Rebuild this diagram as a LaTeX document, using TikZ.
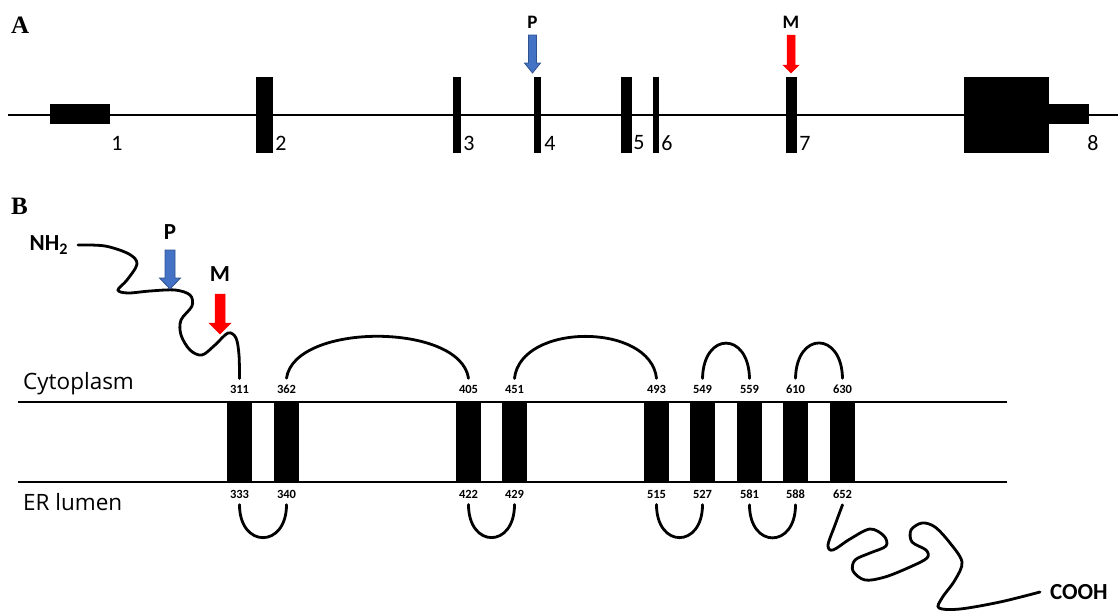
\documentclass[tikz,border=0pt]{standalone}
\usepackage{fontspec}
\setmainfont{Carlito}
\newfontfamily\panelfont{Liberation Serif}
\newfontfamily\regionfont{Open Sans}
\definecolor{pblue}{RGB}{68,114,196}
\definecolor{pblueline}{RGB}{47,82,143}
\definecolor{mred}{RGB}{255,0,0}
\begin{document}
\begin{tikzpicture}[x=1pt,y=-1pt,
  gene/.style={line width=2pt},
  memb/.style={line width=1.8pt},
  exonbox/.style={fill=black},
  tmbox/.style={fill=black},
  numlbl/.style={font=\fontsize{12.5}{14}\selectfont\bfseries, inner sep=1pt, outer sep=5.5pt},
  exlbl/.style={font=\fontsize{22}{26}\selectfont, inner sep=0pt},
  mkA/.style={font=\fontsize{19}{22}\selectfont\bfseries, inner sep=0pt},
  mkB/.style={font=\fontsize{23}{27}\selectfont\bfseries, inner sep=0pt},
  panel/.style={font=\fontsize{25}{29}\selectfont\panelfont\bfseries, inner sep=0pt, anchor=base west},
  region/.style={font=\fontsize{22.5}{26}\selectfont\regionfont, inner sep=0pt, anchor=base west},
  loopline/.style={line width=2.8pt, line cap=round},
  bluearrow/.style={fill=pblue, draw=pblueline, line width=0.8pt},
  redarrow/.style={fill=mred, draw=mred, line width=0.5pt}
]
\useasboundingbox (0,0) rectangle (1118,614);

% ---------------- Panel A ----------------
\node[panel] (lblA) at (11,33) {A};
\draw[gene] (8,115) -- (1118,115);
\fill[exonbox] (50,104) rectangle (110,124);
\fill[exonbox] (256,77) rectangle (273,153);
\fill[exonbox] (453,77) rectangle (461,153);
\fill[exonbox] (534,77) rectangle (541,153);
\fill[exonbox] (621,77) rectangle (632,153);
\fill[exonbox] (653,77) rectangle (659,153);
\fill[exonbox] (786,77) rectangle (797,153);
\fill[exonbox] (964,77) rectangle (1049,153);
\fill[exonbox] (1048,104) rectangle (1089,124);

\node[exlbl] (e1) at (117,143) {1};
\node[exlbl] (e2) at (281,143) {2};
\node[exlbl] (e3) at (469,143) {3};
\node[exlbl] (e4) at (550,143) {4};
\node[exlbl] (e5) at (639,143) {5};
\node[exlbl] (e6) at (667,143) {6};
\node[exlbl] (e7) at (805,143) {7};
\node[exlbl] (e8) at (1093,143) {8};

\node[mkA] (pA) at (532.5,22) {P};
\node[mkA] (mA) at (791,22) {M};
\filldraw[bluearrow] (528.5,35) -- (536.5,35) -- (536.5,63) -- (540.5,63) -- (532.5,73) -- (524.5,63) -- (528.5,63) -- cycle;
\filldraw[redarrow] (787,35) -- (795,35) -- (795,65) -- (799,65) -- (791,73) -- (783,65) -- (787,65) -- cycle;

% ---------------- Panel B ----------------
\node[panel] (lblB) at (11,214) {B};
\node[region] (cyto) at (23,389) {Cytoplasm};
\node[region] (lumen) at (23,510) {ER lumen};

\draw[memb] (18,402) -- (1007,402);
\draw[memb] (18,482) -- (1007,482);

\foreach \xa/\xb in {227/252,274/299,456/481,502/527,644/669,690/715,737/762,783/808,830/855}
  \fill[tmbox] (\xa,402) rectangle (\xb,482);

\foreach \nm/\x in {311/239.5,362/286.5,405/468.5,451/514.5,493/656.5,549/702.5,559/749.5,610/795.5,630/842.5}
  \node[numlbl] (n\nm) at (\x,389) {\nm};
\foreach \nm/\x in {333/239.5,340/286.5,422/468.5,429/514.5,515/656.5,527/702.5,581/749.5,588/795.5,652/842.5}
  \node[numlbl] (n\nm) at (\x,494) {\nm};

% cytoplasmic loops
\draw[loopline] (n362.north) .. controls +(8,-56) and +(-8,-56) .. (n405.north);
\draw[loopline] (n451.north) .. controls +(6,-56) and +(-6,-56) .. (n493.north);
\draw[loopline] (n549.north) .. controls +(1,-47) and +(-1,-47) .. (n559.north);
\draw[loopline] (n610.north) .. controls +(1,-47) and +(-1,-47) .. (n630.north);
% lumenal loops
\draw[loopline] (n333.south) .. controls +(0,44) and +(0,44) .. (n340.south);
\draw[loopline] (n422.south) .. controls +(0,44) and +(0,44) .. (n429.south);
\draw[loopline] (n515.south) .. controls +(0,44) and +(0,44) .. (n527.south);
\draw[loopline] (n581.south) .. controls +(0,44) and +(0,44) .. (n588.south);

% N-terminal tail
\node[mkB, anchor=east, outer sep=10pt] (nh2) at (78,245) {NH\textsubscript{2}};
\draw[loopline] plot[smooth, tension=0.55] coordinates {(nh2.east) (105,246) (129,254) (137,264) (127,280) (118,290) (128,293) (150,291) (175,290) (190,295) (192,306) (181,320) (181,335) (190,350) (202,355) (215,345) (228,333) (236,338) (239,355) (n311.north)};

% C-terminal tail
\node[mkB, anchor=west, outer sep=10pt] (cooh) at (1040,592) {COOH};
\draw[loopline] plot[smooth, tension=0.55] coordinates {(n652.south) (835,525) (828,545) (833,550) (850,539) (870,529) (884,536) (886,546) (870,553) (855,560) (853,571) (865,580) (885,577) (910,567) (927,558) (926,550) (912,542) (911,530) (922,523) (935,527) (950,543) (962,562) (955,580) (942,598) (939,608) (960,609) (1000,602) (cooh.west)};

% P and M markers
\node[mkB] (pB) at (170,232) {P};
\node[mkB] (mB) at (220,274) {M};
\filldraw[bluearrow] (165,250) -- (175,250) -- (175,278) -- (180.5,278) -- (170,289) -- (159.5,278) -- (165,278) -- cycle;
\filldraw[redarrow] (215,294) -- (225,294) -- (225,323) -- (231,323) -- (220,334) -- (209,323) -- (215,323) -- cycle;
\end{tikzpicture}
\end{document}
